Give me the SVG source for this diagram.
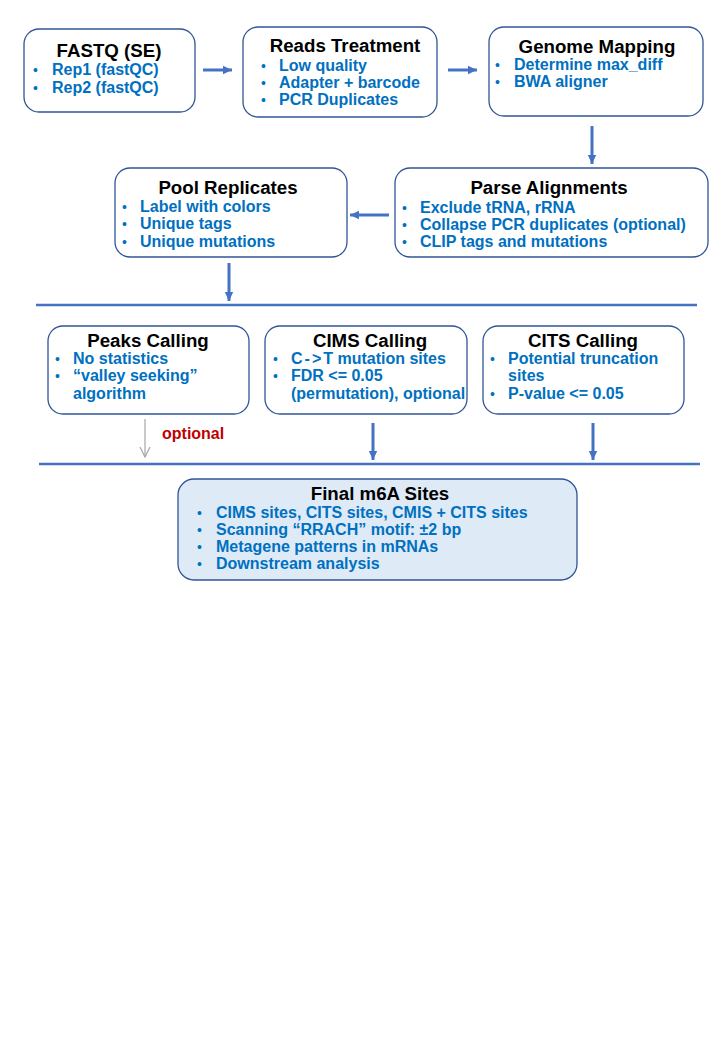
<svg xmlns="http://www.w3.org/2000/svg" width="720" height="1040" viewBox="0 0 720 1040">
<style>
.box{fill:#fff;stroke:#2F5597;stroke-width:1.3}
.fin{fill:#DEEBF7;stroke:#2F5597;stroke-width:1.3}
.t{font-family:"Liberation Sans",Arial,sans-serif;font-weight:bold;font-size:18.7px;fill:#000;text-anchor:middle}
.b{font-family:"Liberation Sans",Arial,sans-serif;font-weight:bold;font-size:16px;fill:#0070C0}
.bl{font-family:"Liberation Sans",Arial,sans-serif;font-size:14px;fill:#0070C0}
.ar{stroke:#4472C4;stroke-width:3;fill:none}
.ln{stroke:#4472C4;stroke-width:2.5}
.op{font-family:"Liberation Sans",Arial,sans-serif;font-weight:bold;font-size:16px;fill:#C00000}
</style>
<defs>
<marker id="ah" markerUnits="userSpaceOnUse" markerWidth="10" markerHeight="10" refX="9" refY="5" orient="auto">
<path d="M0,0.8 L9,5 L0,9.2 Z" fill="#4472C4"/>
</marker>
<marker id="ag" markerUnits="userSpaceOnUse" markerWidth="12" markerHeight="14" refX="11" refY="6" orient="auto">
<path d="M1,1 L11,6 L1,11" fill="none" stroke="#A6A6A6" stroke-width="1.2"/>
</marker>
</defs>

<g id="connectors">
<line class="ar" x1="203" y1="70" x2="232" y2="70" marker-end="url(#ah)"/>
<line class="ar" x1="448" y1="70" x2="477" y2="70" marker-end="url(#ah)"/>
<line class="ar" x1="592" y1="126" x2="592" y2="164" marker-end="url(#ah)"/>
<line class="ar" x1="389" y1="215" x2="350" y2="215" marker-end="url(#ah)"/>
<line class="ar" x1="229" y1="263" x2="229" y2="301" marker-end="url(#ah)"/>
<line class="ln" x1="36" y1="305" x2="697" y2="305"/>
<line x1="145" y1="419" x2="145" y2="457" stroke="#A6A6A6" stroke-width="1.2" marker-end="url(#ag)"/>
<text class="op" x="162" y="439">optional</text>
<line class="ar" x1="373" y1="423" x2="373" y2="460" marker-end="url(#ah)"/>
<line class="ar" x1="593" y1="423" x2="593" y2="460" marker-end="url(#ah)"/>
<line class="ln" x1="39" y1="464" x2="700" y2="464"/>
</g>

<g id="fastq">
<rect class="box" x="24" y="29" width="171" height="83" rx="15"/>
<text class="t" x="109" y="57">FASTQ (SE)</text>
<text class="bl" x="33" y="75">•</text><text class="b" x="52" y="75">Rep1 (fastQC)</text>
<text class="bl" x="33" y="93">•</text><text class="b" x="52" y="93">Rep2 (fastQC)</text>
</g>

<g id="reads">
<rect class="box" x="243" y="27" width="194" height="90" rx="15"/>
<text class="t" x="345" y="52">Reads Treatment</text>
<text class="bl" x="261" y="71">•</text><text class="b" x="279" y="71">Low quality</text>
<text class="bl" x="261" y="88">•</text><text class="b" x="279" y="88">Adapter + barcode</text>
<text class="bl" x="261" y="105">•</text><text class="b" x="279" y="105">PCR Duplicates</text>
</g>

<g id="genome">
<rect class="box" x="489" y="27" width="214" height="89" rx="15"/>
<text class="t" x="597" y="53">Genome Mapping</text>
<text class="bl" x="495" y="70">•</text><text class="b" x="514" y="70">Determine max_diff</text>
<text class="bl" x="495" y="87">•</text><text class="b" x="514" y="87">BWA aligner</text>
</g>

<g id="parse">
<rect class="box" x="395" y="168" width="313" height="89" rx="15"/>
<text class="t" x="549" y="194">Parse Alignments</text>
<text class="bl" x="402" y="213">•</text><text class="b" x="420" y="213">Exclude tRNA, rRNA</text>
<text class="bl" x="402" y="230">•</text><text class="b" x="420" y="230">Collapse PCR duplicates (optional)</text>
<text class="bl" x="402" y="247">•</text><text class="b" x="420" y="247">CLIP tags and mutations</text>
</g>

<g id="pool">
<rect class="box" x="115" y="168" width="232" height="89" rx="15"/>
<text class="t" x="228" y="194">Pool Replicates</text>
<text class="bl" x="122" y="212">•</text><text class="b" x="140" y="212">Label with colors</text>
<text class="bl" x="122" y="229">•</text><text class="b" x="140" y="229">Unique tags</text>
<text class="bl" x="122" y="247">•</text><text class="b" x="140" y="247">Unique mutations</text>
</g>

<g id="peaks">
<rect class="box" x="48" y="326" width="201" height="88" rx="15"/>
<text class="t" x="148" y="347">Peaks Calling</text>
<text class="bl" x="55" y="364">•</text><text class="b" x="73" y="364">No statistics</text>
<text class="bl" x="55" y="381">•</text><text class="b" x="73" y="381">“valley seeking”</text>
<text class="b" x="73" y="399">algorithm</text>
</g>

<g id="cims">
<rect class="box" x="265" y="326" width="202" height="88" rx="15"/>
<text class="t" x="370" y="347">CIMS Calling</text>
<text class="bl" x="273" y="364">•</text><text class="b" x="291" y="364"><tspan letter-spacing="2">C-&gt;</tspan>T mutation sites</text>
<text class="bl" x="273" y="381">•</text><text class="b" x="291" y="381">FDR &lt;= 0.05</text>
<text class="b" x="291" y="399">(permutation), optional</text>
</g>

<g id="cits">
<rect class="box" x="483" y="326" width="201" height="88" rx="15"/>
<text class="t" x="583" y="347">CITS Calling</text>
<text class="bl" x="490" y="364">•</text><text class="b" x="508" y="364">Potential truncation</text>
<text class="b" x="508" y="381">sites</text>
<text class="bl" x="490" y="399">•</text><text class="b" x="508" y="399">P-value &lt;= 0.05</text>
</g>

<g id="final">
<rect class="fin" x="178" y="479" width="399" height="101" rx="16"/>
<text class="t" x="380" y="500">Final m6A Sites</text>
<text class="bl" x="197" y="518">•</text><text class="b" x="216" y="518">CIMS sites, CITS sites, CMIS + CITS sites</text>
<text class="bl" x="197" y="535">•</text><text class="b" x="216" y="535">Scanning “RRACH” motif: ±2 bp</text>
<text class="bl" x="197" y="552">•</text><text class="b" x="216" y="552">Metagene patterns in mRNAs</text>
<text class="bl" x="197" y="569">•</text><text class="b" x="216" y="569">Downstream analysis</text>
</g>
</svg>
